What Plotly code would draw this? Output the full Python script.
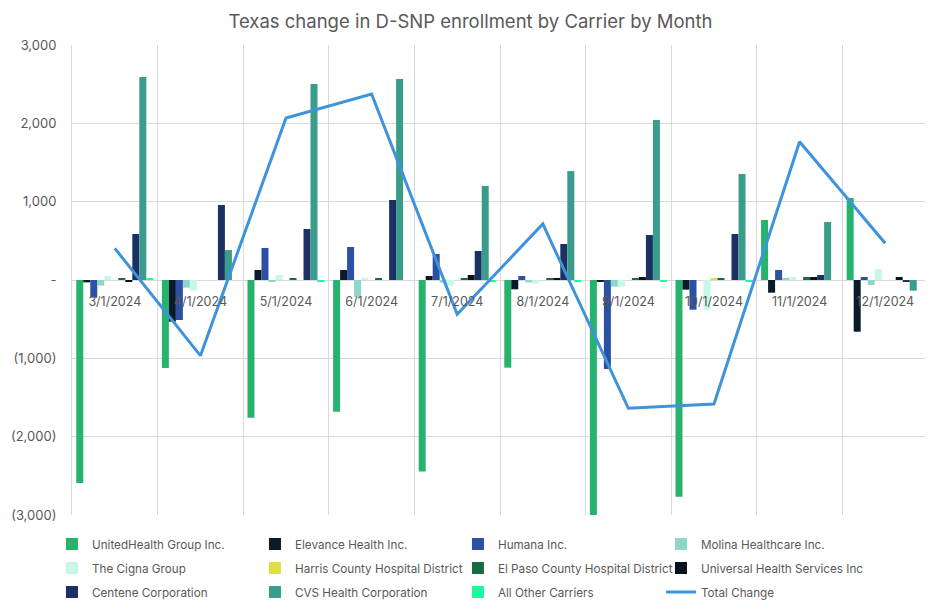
import plotly.graph_objects as go

months = ["3/1/2024", "4/1/2024", "5/1/2024", "6/1/2024", "7/1/2024",
          "8/1/2024", "9/1/2024", "10/1/2024", "11/1/2024", "12/1/2024"]

carriers = ["UnitedHealth Group Inc.", "Elevance Health Inc.", "Humana Inc.",
            "Molina Healthcare Inc.", "The Cigna Group", "Harris County Hospital District",
            "El Paso County Hospital District", "Universal Health Services Inc.",
            "Centene Corporation", "CVS Health Corporation", "All Other Carriers"]

unitedhealth = [-2590, -1123, -1757, -1681, -2446, -1119, -3100, -2766, 766, 1047]
elevance     = [-30, -532, 128, 128, 51, -119, -17, -123, -162, -660]
humana       = [-225, -511, 409, 421, 332, 51, -1136, -379, 128, 38]
molina       = [-72, -98, -17, -213, -34, -30, -85, 0, 26, -64]
cigna        = [51, -136, 64, 26, -72, -47, -85, -379, 38, 140]
harris       = [0, 0, 0, 0, 0, 0, 0, 13, 0, 0]
elpaso       = [13, 0, 13, 26, 26, 13, 13, 26, 38, 0]
uhs          = [-17, 0, 0, 0, 64, 26, 38, 0, 38, 38]
centene      = [587, 957, 651, 1021, 370, 460, 574, 587, 64, -17]
cvs          = [2591, 383, 2502, 2566, 1200, 1391, 2043, 1353, 740, -136]
all_other    = [13, 0, -17, 0, -17, -17, -17, -17, 0, 0]
total_change = [404, -966, 2068, 2374, -438, 715, -1638, -1583, 1766, 468]

series = [unitedhealth, elevance, humana, molina, cigna, harris,
          elpaso, uhs, centene, cvs, all_other]
colors = ["#27B36E", "#0A1A2A", "#2B50A4", "#8ED6C9", "#C6F8E5", "#DCE046",
          "#156B44", "#06121E", "#1B3163", "#3A9C8A", "#1BFA9C"]

y_tickvals = [3000, 2000, 1000, 0, -1000, -2000, -3000]
y_ticktext = ["3,000", "2,000", "1,000", "-", "(1,000)", "(2,000)", "(3,000)"]

legend_ids = ["legend", "legend2", "legend3"]

fig = go.Figure()
for i, (name, vals, col) in enumerate(zip(carriers, series, colors)):
    fig.add_trace(go.Bar(x=months, y=vals, name=name, marker_color=col,
                         marker_line_width=0, legend=legend_ids[i // 4]))
fig.add_trace(go.Scatter(x=months, y=total_change, name="Total Change", mode="lines",
                         line=dict(color="#3F93DA", width=3), legend="legend3"))

def leg(ypos):
    return dict(orientation="h", x=-0.0234, xanchor="left", y=ypos, yanchor="middle",
                entrywidth=158, entrywidthmode="pixels", traceorder="normal",
                font=dict(size=11.7, color="#595959"), bgcolor="rgba(0,0,0,0)")

fig.update_layout(
    width=925, height=604,
    margin=dict(l=64, r=5, t=37, b=97, autoexpand=False),
    paper_bgcolor="white", plot_bgcolor="white",
    font=dict(family="Inter, Open Sans, sans-serif", color="#595959"),
    title=dict(text="Texas change in D-SNP enrollment by Carrier by Month",
               x=0.5, xanchor="center", y=0.977, yanchor="middle",
               font=dict(size=18.5, color="#595959"), automargin=False),
    barmode="group", bargap=0.1, bargroupgap=0,
    showlegend=True,
    legend=leg(-0.0617), legend2=leg(-0.1128), legend3=leg(-0.1638),
)
fig.update_xaxes(type="category", tickson="boundaries", showgrid=True,
                 gridcolor="#D9D9D9", gridwidth=1, anchor="free", position=0.5,
                 showline=False, ticks="", ticklabelstandoff=12,
                 tickfont=dict(size=12.5, color="#595959"), range=[-0.5, 9.5],
                 automargin=False)
fig.update_yaxes(range=[-3000, 3000], tickvals=y_tickvals, ticktext=y_ticktext,
                 showgrid=True, gridcolor="#D9D9D9", gridwidth=1,
                 zeroline=True, zerolinecolor="#D9D9D9", zerolinewidth=1,
                 showline=True, mirror=True, linecolor="#D9D9D9",
                 tickfont=dict(size=13, color="#595959"), ticklabelstandoff=12,
                 automargin=False)

fig.write_html("out.html")
